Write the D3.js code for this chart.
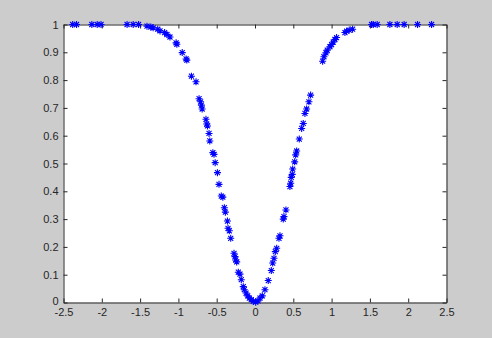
<!DOCTYPE html>
<html>
<head>
<meta charset="utf-8">
<script src="https://cdn.jsdelivr.net/npm/d3@7"></script>
<style>
  html, body { margin: 0; padding: 0; background: #cccccc; }
  svg { display: block; }
</style>
</head>
<body>
<div id="chart"></div>
<script>
// values
const xValues = [
  -2.38, -2.33, -2.13, -2.06, -2.01, -1.67, -1.59, -1.52,
  -1.41, -1.36, -1.33, -1.27, -1.24, -1.18, -1.15, -1.11, -1.03, -1.02,
  -0.95, -0.90, -0.89, -0.83, -0.77, -0.73, -0.71, -0.70, -0.69, -0.64,
  -0.63, -0.62, -0.60, -0.59, -0.55, -0.535, -0.52, -0.49, -0.47, -0.44,
  -0.42, -0.40, -0.387, -0.36, -0.352, -0.335, -0.317, -0.274, -0.261, -0.252,
  -0.239, -0.218, -0.196, -0.179, -0.153, -0.14, -0.117, -0.095, -0.074, -0.048,
  -0.022, 0.009, 0.039, 0.065, 0.095, 0.13,
  0.173, 0.213, 0.231, 0.248, 0.265, 0.283, 0.313, 0.326, 0.369, 0.378, 0.404,
  0.456, 0.466, 0.473, 0.486, 0.492, 0.518, 0.531, 0.544, 0.578, 0.609, 0.63,
  0.652, 0.674, 0.704, 0.726,
  0.883, 0.90, 0.926, 0.943, 0.978, 1.0, 1.021, 1.043, 1.065, 1.174, 1.196,
  1.23, 1.274,
  1.522, 1.543, 1.595, 1.761, 1.856, 1.947, 2.122, 2.305
];
const yValues = [
  1, 1, 1, 1, 1, 1, 1, 1,
  0.994, 0.991, 0.988, 0.983, 0.977, 0.971, 0.964, 0.955, 0.934, 0.929,
  0.899, 0.876, 0.872, 0.814, 0.794, 0.733, 0.722, 0.71, 0.696, 0.659,
  0.642, 0.635, 0.608, 0.581, 0.539, 0.533, 0.503, 0.467, 0.425, 0.383,
  0.379, 0.341, 0.325, 0.293, 0.267, 0.258, 0.231, 0.177, 0.165, 0.153,
  0.146, 0.109, 0.102, 0.082, 0.057, 0.046, 0.034, 0.024, 0.016, 0.01,
  0.004, 0.001, 0.006, 0.016, 0.024, 0.046,
  0.079, 0.115, 0.142, 0.159, 0.183, 0.195, 0.231, 0.24, 0.3, 0.309, 0.333,
  0.417, 0.429, 0.45, 0.461, 0.48, 0.506, 0.531, 0.545, 0.588, 0.626, 0.644,
  0.68, 0.696, 0.722, 0.746,
  0.868, 0.884, 0.898, 0.908, 0.92, 0.928, 0.937, 0.946, 0.953, 0.971, 0.976,
  0.98, 0.983,
  1, 1, 1, 1, 1, 1, 1, 1
];
const xTicks = [-2.5, -2, -1.5, -1, -0.5, 0, 0.5, 1, 1.5, 2, 2.5];
const yTicks = [0, 0.1, 0.2, 0.3, 0.4, 0.5, 0.6, 0.7, 0.8, 0.9, 1];

const width = 492, height = 338;
const margin = { top: 24.5, right: 45.5, bottom: 35.5, left: 63.5 };
const w = width - margin.left - margin.right;
const h = height - margin.top - margin.bottom;

const svg = d3.select('#chart').append('svg')
  .attr('width', width)
  .attr('height', height);

const g = svg.append('g').attr('transform', `translate(${margin.left},${margin.top})`);

g.append('rect').attr('width', w).attr('height', h).attr('fill', '#ffffff');

const x = d3.scaleLinear().domain([-2.5, 2.5]).range([0, w]);
const y = d3.scaleLinear().domain([0, 1]).range([h, 0]);

const fmt = (d) => String(d);
const axisColor = '#262626';

function styleAxis(sel) {
  sel.select('.domain').attr('stroke', axisColor);
  sel.selectAll('.tick line').attr('stroke', axisColor);
  sel.selectAll('.tick text')
    .attr('fill', '#262626')
    .style('font-family', 'Liberation Sans, Arial, sans-serif')
    .style('font-size', '11px');
}

g.append('g').attr('transform', `translate(0,${h})`)
  .call(d3.axisBottom(x).tickValues(xTicks).tickFormat(fmt).tickSizeInner(-4).tickSizeOuter(0).tickPadding(6))
  .call(styleAxis);
g.append('g')
  .call(d3.axisTop(x).tickValues(xTicks).tickFormat('').tickSizeInner(-4).tickSizeOuter(0))
  .call(styleAxis);
g.append('g')
  .call(d3.axisLeft(y).tickValues(yTicks).tickFormat(fmt).tickSizeInner(-4).tickSizeOuter(0).tickPadding(5))
  .call(styleAxis);
g.append('g').attr('transform', `translate(${w},0)`)
  .call(d3.axisRight(y).tickValues(yTicks).tickFormat('').tickSizeInner(-4).tickSizeOuter(0))
  .call(styleAxis);

// nudge the "0" label up a touch so it clears "-2.5"
g.selectAll('.tick text').filter((t) => t === 0 && yTicks.includes(t)).filter(function () {
  return this.getAttribute('x') !== null && +this.getAttribute('x') < 0;
}).attr('dy', '0.2em');

// asterisk markers
const pts = xValues.map((v, i) => [v, yValues[i]]);
const r = 3.5, d = 2.5;
const star = `M${-r},0L${r},0M0,${-r}L0,${r}M${-d},${-d}L${d},${d}M${-d},${d}L${d},${-d}`;
g.append('g').selectAll('path')
  .data(pts)
  .join('path')
  .attr('transform', (p) => `translate(${x(p[0])},${y(p[1])})`)
  .attr('d', star)
  .attr('fill', 'none')
  .attr('stroke', '#0000ff')
  .attr('stroke-width', 1.1);
</script>
</body>
</html>
